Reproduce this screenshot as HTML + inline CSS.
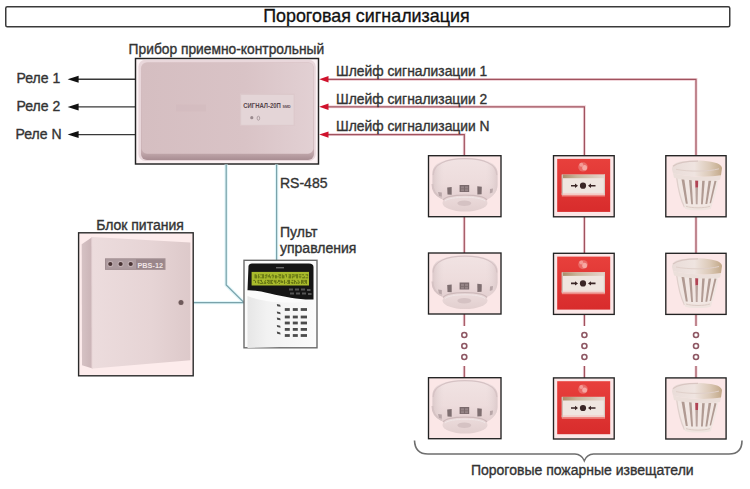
<!DOCTYPE html>
<html><head><meta charset="utf-8">
<style>
html,body{margin:0;padding:0;background:#fff;width:750px;height:489px;overflow:hidden}
svg{display:block}
text{font-family:"Liberation Sans",sans-serif}
.t{stroke:#333;stroke-width:0.35px;paint-order:stroke}
</style></head>
<body>
<svg width="750" height="489" viewBox="0 0 750 489">
<defs>
  <linearGradient id="ppkb" x1="0" y1="0" x2="0" y2="1">
    <stop offset="0" stop-color="#d8c1c4"/>
    <stop offset="0.92" stop-color="#c4aaae"/>
    <stop offset="1" stop-color="#a88d92"/>
  </linearGradient>
  <linearGradient id="ppkh" x1="0" y1="0" x2="1" y2="0">
    <stop offset="0" stop-color="#d5bec1"/>
    <stop offset="0.6" stop-color="#d9c3c6"/>
    <stop offset="1" stop-color="#e2d0d3"/>
  </linearGradient>

  <linearGradient id="smk" x1="0" y1="0" x2="0" y2="1">
    <stop offset="0" stop-color="#f1e3e3"/>
    <stop offset="0.6" stop-color="#eddcdc"/>
    <stop offset="1" stop-color="#e3cfd0"/>
  </linearGradient>
  <linearGradient id="smkh" x1="0" y1="0" x2="1" y2="0">
    <stop offset="0" stop-color="#d9c6c7" stop-opacity="0.9"/>
    <stop offset="0.18" stop-color="#e8dada" stop-opacity="0"/>
    <stop offset="0.82" stop-color="#e8dada" stop-opacity="0"/>
    <stop offset="1" stop-color="#dbc8c9" stop-opacity="0.9"/>
  </linearGradient>
  <linearGradient id="smkb" x1="0" y1="0" x2="0" y2="1">
    <stop offset="0" stop-color="#ecdcdc"/>
    <stop offset="1" stop-color="#e2cfcf"/>
  </linearGradient>
  <linearGradient id="mcpr" x1="0" y1="0" x2="0" y2="1">
    <stop offset="0" stop-color="#e8403c"/>
    <stop offset="1" stop-color="#d82c2c"/>
  </linearGradient>
  <linearGradient id="mcpw" x1="0" y1="0" x2="1" y2="0">
    <stop offset="0" stop-color="#a88a66"/>
    <stop offset="0.35" stop-color="#c8b49a"/>
    <stop offset="1" stop-color="#e6d6ce"/>
  </linearGradient>
  <linearGradient id="htc" x1="0" y1="0" x2="1" y2="0">
    <stop offset="0" stop-color="#e9dcd8"/>
    <stop offset="0.45" stop-color="#efe4e0"/>
    <stop offset="0.75" stop-color="#dccab8"/>
    <stop offset="1" stop-color="#c2a888"/>
  </linearGradient>
  <symbol id="smoke" overflow="visible">
    <!-- upper body -->
    <path d="M4.5,29 L4.5,18 C4.5,8 17,3 37,3 C57,3 69.5,8 69.5,18 L69.5,30 C69.5,38 63,43 58,45 L16,45 C10,43 4.5,38 4.5,29 Z" fill="url(#smk)"/>
    <path d="M4.5,29 L4.5,18 C4.5,8 17,3 37,3 C57,3 69.5,8 69.5,18 L69.5,30 C69.5,38 63,43 58,45 L16,45 C10,43 4.5,38 4.5,29 Z" fill="url(#smkh)"/>
    <path d="M5.2,20 C5.2,9 18,3.7 37,3.7 C56,3.7 68.8,9 68.8,20" fill="none" stroke="#d6c2c4" stroke-width="1.2"/>
    <path d="M4.5,29 C4.5,37 9,41 14,43" fill="none" stroke="#d6c3c4" stroke-width="2"/>
    <!-- lower base plate -->
    <ellipse cx="37" cy="48" rx="22.5" ry="8.6" fill="url(#smkb)"/>
    <path d="M15,45 C20,38.5 54,38.5 59,45" fill="none" stroke="#cdb9ba" stroke-width="1.3"/>
    <path d="M17,46 C22,41 52,41 57,46" fill="none" stroke="#f0e6e6" stroke-width="1"/>
    <ellipse cx="36.3" cy="48.3" rx="7" ry="2.8" fill="#d5c2c3"/>
    <!-- slots -->
    <rect x="31.6" y="30" width="9.6" height="7" fill="#7a6a6c"/>
    <rect x="33" y="31.3" width="3" height="2.2" fill="#958486"/><rect x="37" y="31.3" width="3" height="2.2" fill="#958486"/>
    <rect x="33" y="34.2" width="3" height="2.0" fill="#958486"/><rect x="37" y="34.2" width="3" height="2.0" fill="#958486"/>
    <path d="M19.2,32.5 L23.7,32 L23.7,39.8 L19.5,39.5 Z" fill="#7e6e70"/>
    <path d="M49.3,31.2 L53.8,31.8 L53.6,39.3 L49.4,39.4 Z" fill="#7e6e70"/>
    <path d="M10,37 L13.8,37.5 L13.8,41.8 L11,41 Z" fill="#b8a6a8"/>
    <path d="M62,34 L65,33.5 L64.5,37.5 L61.8,38.5 Z" fill="#b8a6a8"/>
  </symbol>
  <symbol id="mcp" overflow="visible">
    <rect x="5.2" y="4.6" width="53" height="53" fill="url(#mcpr)"/>
    <rect x="9.8" y="20.3" width="43.2" height="20.3" fill="#efe6e0"/>
    <rect x="9.8" y="20.3" width="43.2" height="3.6" fill="url(#mcpw)"/>
    <rect x="9.8" y="38.6" width="43.2" height="2" fill="#f3d2cc"/>
    <rect x="9.8" y="40.6" width="43.2" height="1.6" fill="#ee8a84"/>
    <rect x="9.8" y="20.3" width="1.2" height="20.3" fill="#cdbfb6"/>
    <rect x="51.8" y="20.3" width="1.2" height="20.3" fill="#d8ccc4"/>
    <circle cx="31" cy="31.4" r="3.1" fill="#3a2626"/>
    <path d="M19,31.4 L24,31.4 M38,31.4 L43.5,31.4" stroke="#3a2626" stroke-width="1.6"/>
    <path d="M26,31.4 L23,29.2 L23,33.6 Z M36,31.4 L39,29.2 L39,33.6 Z" fill="#3a2626"/>
    <!-- fire symbol -->
    <ellipse cx="31" cy="12.6" rx="4.8" ry="4.6" fill="#ea6a66"/>
    <ellipse cx="29.3" cy="10.5" rx="2" ry="2" fill="#f39a94"/>
    <ellipse cx="32.6" cy="13.4" rx="2.4" ry="2.6" fill="#f6a8a2"/>
  </symbol>
  <symbol id="heat" overflow="visible">
    <!-- cage -->
    <path d="M12.5,22 L54.5,24 C53.5,34 50,46 47,53 L20.5,53 C17,46 14,34 12.5,22 Z" fill="#f1e7e3"/>
    <g fill="#b09a92">
      <path d="M17.5,25 L20.3,25 L23.8,49.5 L21.8,49.5 Z"/>
      <path d="M25,25.5 L27.6,25.5 L29,50 L27.2,50 Z"/>
      <path d="M38.2,26 L40.8,26 L38.8,50 L37,50 Z"/>
      <path d="M44.6,26.3 L47.2,26.3 L43.2,49.8 L41.4,49.8 Z"/>
      <path d="M50.5,26.5 L52.5,26.8 L47,49 L45.6,49 Z"/>
    </g>
    <path d="M31.2,26 L34.2,26 L34,33.5 L31.4,33.5 Z" fill="#b04454"/>
    <path d="M31.4,33.5 L34,33.5 L33.6,50 L31.8,50 Z" fill="#b8a29c"/>
    <path d="M12.5,22 C14,34 17,46 20.5,53" fill="none" stroke="#e0d0cc" stroke-width="1.3"/>
    <path d="M20,49.5 C25,53 43,53 48,49.5 L47,54.5 C42,56.5 26,56.5 21,54.5 Z" fill="#efe4df"/>
    <path d="M22,52 C28,54 40,54 46,52" fill="none" stroke="#d9c8c2" stroke-width="0.9"/>
    <!-- collar -->
    <path d="M9,19 C22,22.5 44,23.5 57,21 L56,25.5 C44,27.5 22,26.5 10,23.5 Z" fill="#ebdfda"/>
    <!-- cap -->
    <path d="M8,15 C8,9 14,7 22,6.7 C30,6 40,6.2 47,7.5 C53,8.5 58,10.5 58,14 L57,21 C44,23.5 22,22.5 9,19 Z" fill="url(#htc)"/>
    <path d="M9,12 C14,8 26,6.8 34,6.8" fill="none" stroke="#d9c6c2" stroke-width="1.2"/>
    <path d="M12,15 C24,17.5 44,17.5 55,14.5" fill="none" stroke="#e0d0ca" stroke-width="1"/>
  </symbol>

  <linearGradient id="psl" x1="0" y1="0" x2="1" y2="0">
    <stop offset="0" stop-color="#d6c2c4"/>
    <stop offset="1" stop-color="#cab3b6"/>
  </linearGradient>
  <linearGradient id="psf" x1="0" y1="0" x2="1" y2="0">
    <stop offset="0" stop-color="#ecdcdd"/>
    <stop offset="0.6" stop-color="#e6d4d5"/>
    <stop offset="1" stop-color="#ddc9ca"/>
  </linearGradient>
  <linearGradient id="plb" x1="0" y1="0" x2="1" y2="0">
    <stop offset="0" stop-color="#e6e6e6"/>
    <stop offset="0.3" stop-color="#f2f2f2"/>
    <stop offset="1" stop-color="#fafafa"/>
  </linearGradient>
</defs>

<!-- title -->
<rect x="5.75" y="6.75" width="724" height="20" rx="1.5" fill="#fff" stroke="#3a3a3a" stroke-width="1.5"/>
<text class="t" x="366.4" y="22" font-size="17.9" text-anchor="middle" fill="#111">Пороговая сигнализация</text>

<!-- PPK label -->
<text class="t" x="226.4" y="54" font-size="13.8" text-anchor="middle" fill="#333">Прибор приемно-контрольный</text>

<!-- relay lines -->
<g stroke="#383838" stroke-width="1.4">
  <line x1="76" y1="79.3" x2="135" y2="79.3"/>
  <line x1="76" y1="106.9" x2="135" y2="106.9"/>
  <line x1="76" y1="134.6" x2="135" y2="134.6"/>
</g>
<g fill="#111">
  <path d="M67.6,79.3 L78.6,75.8 L78.6,82.8 Z"/>
  <path d="M67.6,106.9 L78.6,103.4 L78.6,110.4 Z"/>
  <path d="M67.6,134.6 L78.6,131.1 L78.6,138.1 Z"/>
</g>
<g font-size="14" fill="#333" class="t">
  <text x="16.5" y="83">Реле 1</text>
  <text x="16.5" y="111">Реле 2</text>
  <text x="15.5" y="139">Реле N</text>
</g>

<!-- PPK box -->
<rect x="135.5" y="58.5" width="183" height="105.5" fill="#fcf2f4" stroke="#222" stroke-width="1.45"/>
<rect x="138.4" y="59.8" width="177.4" height="101.2" rx="7" fill="#e9d7db"/>
<rect x="141" y="62.2" width="173" height="97.8" rx="6" fill="url(#ppkb)"/>
<rect x="141.5" y="62.7" width="172" height="91" rx="5.5" fill="url(#ppkh)"/>
<rect x="240" y="93.6" width="54.8" height="32.2" fill="#dcc9cb"/>
<rect x="241.2" y="95" width="52.4" height="29.8" fill="#e4d5d7"/>
<rect x="176" y="104.5" width="30" height="7" fill="#d0b9bc" opacity="0.45"/>
<text x="243.3" y="108" font-size="7" font-weight="bold" fill="#54444a" textLength="37.5" lengthAdjust="spacingAndGlyphs">СИГНАЛ-20П</text>
<text x="282.5" y="108" font-size="3.8" font-weight="bold" fill="#5a4a4e" textLength="8" lengthAdjust="spacingAndGlyphs">SMD</text>
<circle cx="251.8" cy="117.7" r="1.6" fill="#9a8a8e"/>
<ellipse cx="258.4" cy="118.2" rx="1.3" ry="2" fill="none" stroke="#a09094" stroke-width="0.8"/>

<!-- signal loops -->
<g stroke="#f1d5da" stroke-width="3" fill="none">
  <polyline points="326,79.4 696,79.4 696,155"/>
  <polyline points="326,106.8 584.4,106.8 584.4,155"/>
  <polyline points="326,134.6 464.3,134.6 464.3,155"/>
</g>
<g stroke="#a0525e" stroke-width="1.2" fill="none">
  <polyline points="326,79.4 696,79.4 696,155"/>
  <polyline points="326,106.8 584.4,106.8 584.4,155"/>
  <polyline points="326,134.6 464.3,134.6 464.3,155"/>
</g>
<g fill="#d0122c">
  <path d="M319.2,79.3 L328.5,76.1 L328.5,82.5 Z"/>
  <path d="M319.2,106.8 L328.5,103.6 L328.5,110 Z"/>
  <path d="M319.2,134.6 L328.5,131.4 L328.5,137.8 Z"/>
</g>
<g font-size="13.85" fill="#333" class="t">
  <text x="336" y="76">Шлейф сигнализации 1</text>
  <text x="336" y="103.5">Шлейф сигнализации 2</text>
  <text x="336" y="131">Шлейф сигнализации N</text>
</g>

<!-- vertical detector connections -->
<g stroke="#f1d5da" stroke-width="3" fill="none">
  <line x1="464.3" y1="217" x2="464.3" y2="253"/>
  <line x1="464.3" y1="314" x2="464.3" y2="326"/>
  <line x1="464.3" y1="366" x2="464.3" y2="378"/>
  <line x1="584.4" y1="217" x2="584.4" y2="253"/>
  <line x1="584.4" y1="314" x2="584.4" y2="326"/>
  <line x1="584.4" y1="366" x2="584.4" y2="378"/>
  <line x1="696" y1="217" x2="696" y2="253"/>
  <line x1="696" y1="314" x2="696" y2="326"/>
  <line x1="696" y1="366" x2="696" y2="378"/>
</g>
<g stroke="#a0525e" stroke-width="1.2" fill="none">
  <line x1="464.3" y1="217" x2="464.3" y2="253"/>
  <line x1="464.3" y1="314" x2="464.3" y2="326"/>
  <line x1="464.3" y1="366" x2="464.3" y2="378"/>
  <line x1="584.4" y1="217" x2="584.4" y2="253"/>
  <line x1="584.4" y1="314" x2="584.4" y2="326"/>
  <line x1="584.4" y1="366" x2="584.4" y2="378"/>
  <line x1="696" y1="217" x2="696" y2="253"/>
  <line x1="696" y1="314" x2="696" y2="326"/>
  <line x1="696" y1="366" x2="696" y2="378"/>
</g>
<g stroke="#8e5864" stroke-width="1.6" fill="#fff">
  <circle cx="464.3" cy="335" r="2.5"/><circle cx="464.3" cy="346" r="2.5"/><circle cx="464.3" cy="357" r="2.5"/>
  <circle cx="584.4" cy="335" r="2.5"/><circle cx="584.4" cy="346" r="2.5"/><circle cx="584.4" cy="357" r="2.5"/>
  <circle cx="696" cy="335" r="2.5"/><circle cx="696" cy="346" r="2.5"/><circle cx="696" cy="357" r="2.5"/>
</g>

<!-- detector boxes -->
<g stroke="#222" stroke-width="1.35" fill="#fbe7e7">
  <rect x="428.5" y="155.7" width="72.5" height="61"/>
  <rect x="553.5" y="155.7" width="60.7" height="61.1"/>
  <rect x="665.8" y="155.7" width="60.3" height="61.1"/>
  <rect x="428.5" y="253" width="72.5" height="61"/>
  <rect x="553.5" y="253.3" width="60.7" height="61.1"/>
  <rect x="665.8" y="253.3" width="60.3" height="61.1"/>
  <rect x="428.5" y="377.7" width="72.5" height="61"/>
  <rect x="553.5" y="377.9" width="60.7" height="61.1"/>
  <rect x="665.8" y="377.9" width="60.3" height="61.1"/>
</g>
<use href="#smoke" x="428" y="155"/>
<use href="#smoke" x="428" y="252.5"/>
<use href="#smoke" x="428" y="377"/>
<use href="#mcp" x="552" y="154.3"/>
<use href="#mcp" x="552" y="252"/>
<use href="#mcp" x="552" y="376.6"/>
<use href="#heat" x="664" y="154.3"/>
<use href="#heat" x="664" y="252"/>
<use href="#heat" x="664" y="376.6"/>

<!-- brace -->
<path d="M414.5,440.5 Q415,454 428,454 L575,454 Q581.5,454.3 584.3,460.7 Q587,454.3 593.5,454 L729,454 Q742,454 742,440.5" fill="none" stroke="#6e6e6e" stroke-width="1.6"/>
<text class="t" x="582.3" y="475" font-size="14" text-anchor="middle" fill="#333">Пороговые пожарные извещатели</text>

<!-- teal RS-485 lines -->
<g stroke="#e0f6f9" stroke-width="3.4" fill="none">
  <polyline points="226.2,164.5 226.2,285 244,302.6 193.5,302.6"/>
  <line x1="276.6" y1="164.5" x2="276.6" y2="260"/>
</g>
<g stroke="#7aa2ab" stroke-width="1.25" fill="none">
  <polyline points="226.2,164.5 226.2,285 244,302.6 193.5,302.6"/>
  <line x1="276.6" y1="164.5" x2="276.6" y2="260"/>
</g>
<text class="t" x="280" y="188" font-size="14" fill="#333">RS-485</text>
<text class="t" x="280" y="237.2" font-size="14" fill="#333">Пульт</text>
<text class="t" x="280" y="253" font-size="14" fill="#333">управления</text>

<!-- power supply -->
<text class="t" x="140" y="229.5" font-size="14" text-anchor="middle" fill="#333">Блок питания</text>
<rect x="78.6" y="232.8" width="114.6" height="143" fill="#fdecec" stroke="#2a2a2a" stroke-width="1.4"/>
<!-- cabinet left side -->
<path d="M81.7,244.3 L92.4,237 L92.6,368.5 L82,365.2 Z" fill="url(#psl)"/>
<path d="M91.4,237.6 L92.6,237 L92.8,368.5 L91.6,368.2 Z" fill="#ead9da"/>
<!-- cabinet front -->
<path d="M92.6,237 L190.4,242.5 L190.4,360.2 L92.8,368.5 Z" fill="url(#psf)"/>
<!-- indicator strip -->
<rect x="105" y="258.3" width="60.5" height="11.6" fill="#a08d91"/>
<rect x="106" y="259.3" width="58.5" height="9.6" fill="#ac9a9e"/>
<rect x="136" y="259.3" width="28.5" height="9.6" fill="#9a868a"/>
<circle cx="110.3" cy="264" r="3" fill="#c4b2b5"/>
<circle cx="120.6" cy="264" r="3" fill="#c4b2b5"/>
<circle cx="130.7" cy="264" r="3" fill="#c4b2b5"/>
<circle cx="110.3" cy="264" r="2.1" fill="#4a3536"/>
<circle cx="120.6" cy="264" r="2.1" fill="#4a3536"/>
<circle cx="130.7" cy="264" r="2.1" fill="#4a3536"/>
<text x="137.5" y="267.6" font-size="8" font-weight="bold" fill="#efe4e4" textLength="25.5" lengthAdjust="spacingAndGlyphs">PBS-12</text>
<!-- knob -->
<circle cx="181" cy="302.6" r="3.4" fill="#dcc8c8"/>
<circle cx="181" cy="302.6" r="2.5" fill="#6e5a5b"/>

<!-- pult -->
<rect x="244" y="260.3" width="73" height="87.5" fill="#fbfbfb" stroke="#6a6a6a" stroke-width="1.4"/>
<path d="M247.5,348 L247.5,296 C262,302 290,305 313.5,300 L313.5,346 Z" fill="url(#plb)"/>
<path d="M248.5,266 Q249,263.5 252,263.5 L309,263.5 Q313.5,263.5 313.5,267 L313.5,299.5 C300,300 285,297 270,293.5 C260,291 253,290 247.5,290.2 Z" fill="#151515"/>
<rect x="251.6" y="271.9" width="57.4" height="13.6" fill="#a9bb2c"/>
<g fill="#56650f">
<rect x="254.60" y="274.30" width="0.85" height="1.0"/><rect x="255.45" y="274.30" width="0.85" height="1.0"/><rect x="254.60" y="275.30" width="0.85" height="1.0"/><rect x="255.45" y="275.30" width="0.85" height="1.0"/><rect x="256.30" y="275.30" width="0.85" height="1.0"/><rect x="254.60" y="276.30" width="0.85" height="1.0"/><rect x="255.45" y="276.30" width="0.85" height="1.0"/><rect x="256.30" y="276.30" width="0.85" height="1.0"/><rect x="254.60" y="277.30" width="0.85" height="1.0"/><rect x="255.45" y="277.30" width="0.85" height="1.0"/><rect x="256.30" y="277.30" width="0.85" height="1.0"/><rect x="258.00" y="274.30" width="0.85" height="1.0"/><rect x="259.70" y="274.30" width="0.85" height="1.0"/><rect x="258.00" y="275.30" width="0.85" height="1.0"/><rect x="258.00" y="276.30" width="0.85" height="1.0"/><rect x="258.85" y="276.30" width="0.85" height="1.0"/><rect x="258.00" y="277.30" width="0.85" height="1.0"/><rect x="259.70" y="277.30" width="0.85" height="1.0"/><rect x="261.40" y="274.30" width="0.85" height="1.0"/><rect x="262.25" y="274.30" width="0.85" height="1.0"/><rect x="263.10" y="274.30" width="0.85" height="1.0"/><rect x="262.25" y="275.30" width="0.85" height="1.0"/><rect x="263.10" y="275.30" width="0.85" height="1.0"/><rect x="262.25" y="276.30" width="0.85" height="1.0"/><rect x="263.10" y="276.30" width="0.85" height="1.0"/><rect x="261.40" y="277.30" width="0.85" height="1.0"/><rect x="262.25" y="277.30" width="0.85" height="1.0"/><rect x="263.10" y="277.30" width="0.85" height="1.0"/><rect x="265.65" y="274.30" width="0.85" height="1.0"/><rect x="266.50" y="274.30" width="0.85" height="1.0"/><rect x="264.80" y="275.30" width="0.85" height="1.0"/><rect x="265.65" y="275.30" width="0.85" height="1.0"/><rect x="266.50" y="275.30" width="0.85" height="1.0"/><rect x="266.50" y="276.30" width="0.85" height="1.0"/><rect x="264.80" y="277.30" width="0.85" height="1.0"/><rect x="265.65" y="277.30" width="0.85" height="1.0"/><rect x="269.05" y="274.30" width="0.85" height="1.0"/><rect x="268.20" y="275.30" width="0.85" height="1.0"/><rect x="269.05" y="275.30" width="0.85" height="1.0"/><rect x="268.20" y="276.30" width="0.85" height="1.0"/><rect x="269.05" y="276.30" width="0.85" height="1.0"/><rect x="269.90" y="276.30" width="0.85" height="1.0"/><rect x="269.90" y="277.30" width="0.85" height="1.0"/><rect x="272.45" y="274.30" width="0.85" height="1.0"/><rect x="271.60" y="275.30" width="0.85" height="1.0"/><rect x="272.45" y="275.30" width="0.85" height="1.0"/><rect x="273.30" y="275.30" width="0.85" height="1.0"/><rect x="273.30" y="276.30" width="0.85" height="1.0"/><rect x="272.45" y="277.30" width="0.85" height="1.0"/><rect x="275.00" y="275.30" width="0.85" height="1.0"/><rect x="275.85" y="275.30" width="0.85" height="1.0"/><rect x="275.00" y="276.30" width="0.85" height="1.0"/><rect x="275.85" y="276.30" width="0.85" height="1.0"/><rect x="276.70" y="276.30" width="0.85" height="1.0"/><rect x="275.00" y="277.30" width="0.85" height="1.0"/><rect x="275.85" y="277.30" width="0.85" height="1.0"/><rect x="278.40" y="274.30" width="0.85" height="1.0"/><rect x="279.25" y="274.30" width="0.85" height="1.0"/><rect x="280.10" y="274.30" width="0.85" height="1.0"/><rect x="279.25" y="275.30" width="0.85" height="1.0"/><rect x="280.10" y="275.30" width="0.85" height="1.0"/><rect x="278.40" y="276.30" width="0.85" height="1.0"/><rect x="279.25" y="277.30" width="0.85" height="1.0"/><rect x="280.10" y="277.30" width="0.85" height="1.0"/><rect x="281.80" y="274.30" width="0.85" height="1.0"/><rect x="281.80" y="275.30" width="0.85" height="1.0"/><rect x="282.65" y="275.30" width="0.85" height="1.0"/><rect x="283.50" y="275.30" width="0.85" height="1.0"/><rect x="281.80" y="276.30" width="0.85" height="1.0"/><rect x="282.65" y="276.30" width="0.85" height="1.0"/><rect x="283.50" y="276.30" width="0.85" height="1.0"/><rect x="281.80" y="277.30" width="0.85" height="1.0"/><rect x="282.65" y="277.30" width="0.85" height="1.0"/><rect x="283.50" y="277.30" width="0.85" height="1.0"/><rect x="285.20" y="274.30" width="0.85" height="1.0"/><rect x="286.05" y="274.30" width="0.85" height="1.0"/><rect x="286.05" y="275.30" width="0.85" height="1.0"/><rect x="286.05" y="276.30" width="0.85" height="1.0"/><rect x="288.60" y="274.30" width="0.85" height="1.0"/><rect x="289.45" y="274.30" width="0.85" height="1.0"/><rect x="290.30" y="274.30" width="0.85" height="1.0"/><rect x="289.45" y="275.30" width="0.85" height="1.0"/><rect x="290.30" y="275.30" width="0.85" height="1.0"/><rect x="288.60" y="276.30" width="0.85" height="1.0"/><rect x="289.45" y="276.30" width="0.85" height="1.0"/><rect x="290.30" y="276.30" width="0.85" height="1.0"/><rect x="288.60" y="277.30" width="0.85" height="1.0"/><rect x="289.45" y="277.30" width="0.85" height="1.0"/><rect x="290.30" y="277.30" width="0.85" height="1.0"/><rect x="292.00" y="274.30" width="0.85" height="1.0"/><rect x="292.85" y="274.30" width="0.85" height="1.0"/><rect x="293.70" y="274.30" width="0.85" height="1.0"/><rect x="293.70" y="275.30" width="0.85" height="1.0"/><rect x="292.00" y="276.30" width="0.85" height="1.0"/><rect x="292.85" y="276.30" width="0.85" height="1.0"/><rect x="293.70" y="276.30" width="0.85" height="1.0"/><rect x="292.00" y="277.30" width="0.85" height="1.0"/><rect x="295.40" y="274.30" width="0.85" height="1.0"/><rect x="296.25" y="274.30" width="0.85" height="1.0"/><rect x="297.10" y="274.30" width="0.85" height="1.0"/><rect x="295.40" y="275.30" width="0.85" height="1.0"/><rect x="296.25" y="275.30" width="0.85" height="1.0"/><rect x="297.10" y="275.30" width="0.85" height="1.0"/><rect x="296.25" y="276.30" width="0.85" height="1.0"/><rect x="297.10" y="276.30" width="0.85" height="1.0"/><rect x="296.25" y="277.30" width="0.85" height="1.0"/><rect x="297.10" y="277.30" width="0.85" height="1.0"/><rect x="298.80" y="274.30" width="0.85" height="1.0"/><rect x="299.65" y="274.30" width="0.85" height="1.0"/><rect x="300.50" y="274.30" width="0.85" height="1.0"/><rect x="298.80" y="276.30" width="0.85" height="1.0"/><rect x="299.65" y="276.30" width="0.85" height="1.0"/><rect x="300.50" y="276.30" width="0.85" height="1.0"/><rect x="299.65" y="277.30" width="0.85" height="1.0"/><rect x="302.20" y="274.30" width="0.85" height="1.0"/><rect x="303.05" y="274.30" width="0.85" height="1.0"/><rect x="303.90" y="276.30" width="0.85" height="1.0"/><rect x="302.20" y="277.30" width="0.85" height="1.0"/><rect x="303.05" y="277.30" width="0.85" height="1.0"/><rect x="303.90" y="277.30" width="0.85" height="1.0"/><rect x="305.60" y="274.30" width="0.85" height="1.0"/><rect x="306.45" y="274.30" width="0.85" height="1.0"/><rect x="307.30" y="274.30" width="0.85" height="1.0"/><rect x="307.30" y="275.30" width="0.85" height="1.0"/><rect x="305.60" y="277.30" width="0.85" height="1.0"/><rect x="306.45" y="277.30" width="0.85" height="1.0"/><rect x="307.30" y="277.30" width="0.85" height="1.0"/>
<rect x="253.40" y="279.90" width="0.85" height="1.0"/><rect x="254.25" y="279.90" width="0.85" height="1.0"/><rect x="255.10" y="280.90" width="0.85" height="1.0"/><rect x="255.10" y="281.90" width="0.85" height="1.0"/><rect x="257.65" y="279.90" width="0.85" height="1.0"/><rect x="258.50" y="279.90" width="0.85" height="1.0"/><rect x="257.65" y="280.90" width="0.85" height="1.0"/><rect x="257.65" y="281.90" width="0.85" height="1.0"/><rect x="258.50" y="281.90" width="0.85" height="1.0"/><rect x="258.50" y="282.90" width="0.85" height="1.0"/><rect x="260.20" y="279.90" width="0.85" height="1.0"/><rect x="261.05" y="279.90" width="0.85" height="1.0"/><rect x="261.05" y="280.90" width="0.85" height="1.0"/><rect x="261.90" y="281.90" width="0.85" height="1.0"/><rect x="260.20" y="282.90" width="0.85" height="1.0"/><rect x="261.05" y="282.90" width="0.85" height="1.0"/><rect x="261.90" y="282.90" width="0.85" height="1.0"/><rect x="265.30" y="279.90" width="0.85" height="1.0"/><rect x="264.45" y="280.90" width="0.85" height="1.0"/><rect x="264.45" y="281.90" width="0.85" height="1.0"/><rect x="265.30" y="281.90" width="0.85" height="1.0"/><rect x="263.60" y="282.90" width="0.85" height="1.0"/><rect x="264.45" y="282.90" width="0.85" height="1.0"/><rect x="265.30" y="282.90" width="0.85" height="1.0"/><rect x="267.00" y="279.90" width="0.85" height="1.0"/><rect x="267.85" y="279.90" width="0.85" height="1.0"/><rect x="268.70" y="279.90" width="0.85" height="1.0"/><rect x="267.85" y="280.90" width="0.85" height="1.0"/><rect x="268.70" y="280.90" width="0.85" height="1.0"/><rect x="267.00" y="281.90" width="0.85" height="1.0"/><rect x="268.70" y="281.90" width="0.85" height="1.0"/><rect x="267.85" y="282.90" width="0.85" height="1.0"/><rect x="268.70" y="282.90" width="0.85" height="1.0"/><rect x="270.40" y="279.90" width="0.85" height="1.0"/><rect x="271.25" y="279.90" width="0.85" height="1.0"/><rect x="272.10" y="279.90" width="0.85" height="1.0"/><rect x="270.40" y="280.90" width="0.85" height="1.0"/><rect x="271.25" y="280.90" width="0.85" height="1.0"/><rect x="270.40" y="281.90" width="0.85" height="1.0"/><rect x="271.25" y="281.90" width="0.85" height="1.0"/><rect x="270.40" y="282.90" width="0.85" height="1.0"/><rect x="271.25" y="282.90" width="0.85" height="1.0"/><rect x="272.10" y="282.90" width="0.85" height="1.0"/><rect x="273.80" y="279.90" width="0.85" height="1.0"/><rect x="275.50" y="279.90" width="0.85" height="1.0"/><rect x="273.80" y="280.90" width="0.85" height="1.0"/><rect x="274.65" y="280.90" width="0.85" height="1.0"/><rect x="275.50" y="280.90" width="0.85" height="1.0"/><rect x="274.65" y="281.90" width="0.85" height="1.0"/><rect x="275.50" y="281.90" width="0.85" height="1.0"/><rect x="275.50" y="282.90" width="0.85" height="1.0"/><rect x="278.05" y="279.90" width="0.85" height="1.0"/><rect x="278.90" y="279.90" width="0.85" height="1.0"/><rect x="278.05" y="280.90" width="0.85" height="1.0"/><rect x="278.90" y="280.90" width="0.85" height="1.0"/><rect x="277.20" y="281.90" width="0.85" height="1.0"/><rect x="278.90" y="282.90" width="0.85" height="1.0"/><rect x="280.60" y="279.90" width="0.85" height="1.0"/><rect x="280.60" y="280.90" width="0.85" height="1.0"/><rect x="281.45" y="280.90" width="0.85" height="1.0"/><rect x="282.30" y="280.90" width="0.85" height="1.0"/><rect x="280.60" y="281.90" width="0.85" height="1.0"/><rect x="281.45" y="281.90" width="0.85" height="1.0"/><rect x="282.30" y="281.90" width="0.85" height="1.0"/><rect x="284.00" y="279.90" width="0.85" height="1.0"/><rect x="284.00" y="280.90" width="0.85" height="1.0"/><rect x="284.00" y="281.90" width="0.85" height="1.0"/><rect x="285.70" y="281.90" width="0.85" height="1.0"/><rect x="284.00" y="282.90" width="0.85" height="1.0"/><rect x="287.40" y="279.90" width="0.85" height="1.0"/><rect x="288.25" y="279.90" width="0.85" height="1.0"/><rect x="289.10" y="279.90" width="0.85" height="1.0"/><rect x="287.40" y="280.90" width="0.85" height="1.0"/><rect x="288.25" y="280.90" width="0.85" height="1.0"/><rect x="289.10" y="280.90" width="0.85" height="1.0"/><rect x="288.25" y="281.90" width="0.85" height="1.0"/><rect x="289.10" y="281.90" width="0.85" height="1.0"/><rect x="287.40" y="282.90" width="0.85" height="1.0"/><rect x="288.25" y="282.90" width="0.85" height="1.0"/><rect x="289.10" y="282.90" width="0.85" height="1.0"/><rect x="291.65" y="279.90" width="0.85" height="1.0"/><rect x="292.50" y="279.90" width="0.85" height="1.0"/><rect x="290.80" y="281.90" width="0.85" height="1.0"/><rect x="291.65" y="281.90" width="0.85" height="1.0"/><rect x="292.50" y="281.90" width="0.85" height="1.0"/><rect x="291.65" y="282.90" width="0.85" height="1.0"/><rect x="292.50" y="282.90" width="0.85" height="1.0"/><rect x="294.20" y="279.90" width="0.85" height="1.0"/><rect x="294.20" y="280.90" width="0.85" height="1.0"/><rect x="295.05" y="280.90" width="0.85" height="1.0"/><rect x="294.20" y="281.90" width="0.85" height="1.0"/><rect x="295.90" y="281.90" width="0.85" height="1.0"/><rect x="294.20" y="282.90" width="0.85" height="1.0"/><rect x="295.90" y="282.90" width="0.85" height="1.0"/><rect x="297.60" y="279.90" width="0.85" height="1.0"/><rect x="298.45" y="280.90" width="0.85" height="1.0"/><rect x="297.60" y="281.90" width="0.85" height="1.0"/><rect x="299.30" y="281.90" width="0.85" height="1.0"/><rect x="297.60" y="282.90" width="0.85" height="1.0"/><rect x="298.45" y="282.90" width="0.85" height="1.0"/><rect x="301.00" y="279.90" width="0.85" height="1.0"/><rect x="301.85" y="279.90" width="0.85" height="1.0"/><rect x="302.70" y="279.90" width="0.85" height="1.0"/><rect x="301.00" y="280.90" width="0.85" height="1.0"/><rect x="301.85" y="280.90" width="0.85" height="1.0"/><rect x="302.70" y="280.90" width="0.85" height="1.0"/><rect x="301.00" y="281.90" width="0.85" height="1.0"/><rect x="301.85" y="281.90" width="0.85" height="1.0"/><rect x="302.70" y="281.90" width="0.85" height="1.0"/><rect x="301.00" y="282.90" width="0.85" height="1.0"/><rect x="302.70" y="282.90" width="0.85" height="1.0"/><rect x="304.40" y="279.90" width="0.85" height="1.0"/><rect x="305.25" y="279.90" width="0.85" height="1.0"/><rect x="306.10" y="279.90" width="0.85" height="1.0"/><rect x="304.40" y="280.90" width="0.85" height="1.0"/><rect x="305.25" y="280.90" width="0.85" height="1.0"/><rect x="306.10" y="280.90" width="0.85" height="1.0"/><rect x="305.25" y="281.90" width="0.85" height="1.0"/><rect x="306.10" y="281.90" width="0.85" height="1.0"/><rect x="304.40" y="282.90" width="0.85" height="1.0"/><rect x="306.10" y="282.90" width="0.85" height="1.0"/>
</g>
<rect x="276" y="267" width="8" height="1.4" fill="#666"/>
<g fill="#555">
  <rect x="289" y="288.5" width="4" height="2"/><rect x="295" y="288.5" width="4" height="2"/><rect x="301" y="288.5" width="4" height="2"/><rect x="307" y="289" width="3.5" height="2"/>
  <rect x="290" y="292.5" width="4" height="2"/><rect x="296" y="292.5" width="4" height="2"/><rect x="302" y="292.5" width="4" height="2"/><rect x="308" y="293" width="3.5" height="2"/>
</g>
<!-- keys -->
<g fill="#4c4c4c">
  <path d="M276.8,304.0 L280.2,304.8 L280.6,306.8 L277.2,306.2 Z"/>
  <path d="M276.8,311.4 L280.2,312.2 L280.6,314.2 L277.2,313.6 Z"/>
  <path d="M276.8,317.5 L280.2,318.3 L280.6,320.3 L277.2,319.7 Z"/>
  <path d="M276.8,324.9 L280.2,325.7 L280.6,327.7 L277.2,327.1 Z"/>
  <path d="M276.8,331.6 L280.2,332.4 L280.6,334.4 L277.2,333.8 Z"/>
  <rect x="284.8" y="308.1" width="5" height="2.8"/>
  <rect x="292.8" y="308.1" width="5" height="2.8"/>
  <rect x="300.7" y="308.1" width="6.3" height="2.8"/>
  <rect x="284.8" y="315.6" width="5" height="2.8"/>
  <rect x="292.8" y="315.6" width="5" height="2.8"/>
  <rect x="300.7" y="315.6" width="6.3" height="2.8"/>
  <rect x="284.8" y="321.6" width="5" height="2.8"/>
  <rect x="292.8" y="321.6" width="5" height="2.8"/>
  <rect x="300.7" y="321.6" width="6.3" height="2.8"/>
  <rect x="284.8" y="328.0" width="5" height="2.8"/>
  <rect x="292.8" y="328.0" width="5" height="2.8"/>
  <rect x="300.7" y="328.0" width="6.3" height="2.8"/>
  <rect x="284.8" y="334.1" width="5" height="2.8"/>
  <rect x="292.8" y="334.1" width="5" height="2.8"/>
  <rect x="300.7" y="334.1" width="6.3" height="2.8"/>
</g>

</svg>
</body></html>
